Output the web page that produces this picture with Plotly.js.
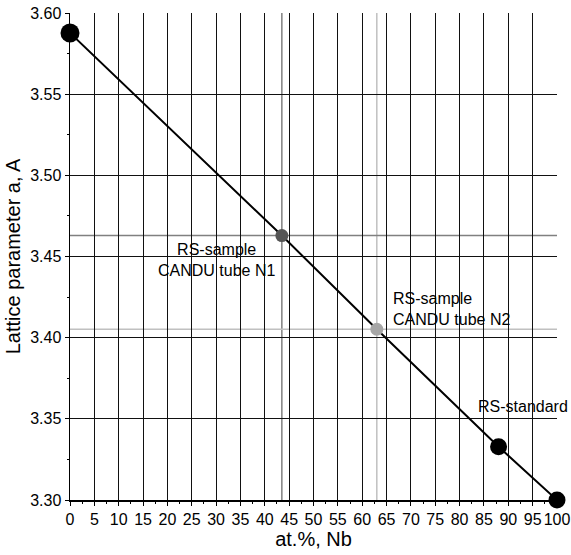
<!DOCTYPE html>
<html>
<head>
<meta charset="utf-8">
<script src="https://cdn.plot.ly/plotly-3.0.1.min.js"></script>
<style>html,body{margin:0;padding:0;background:#fff;}#chart{width:571px;height:555px;}</style>
</head>
<body>
<div id="chart"></div>
<script>
// Data (at.% Nb vs lattice parameter a, Å)
const nbPercent = [0, 43.5, 63, 88, 100];
const latticeA = [3.5877, 3.4629, 3.4052, 3.3328, 3.300];
const markerColors = ['#000000', '#555555', '#a6a6a6', '#000000', '#000000'];
const markerSizes = [19, 13, 13, 17, 17];

const sampleNames = ['RS-sample<br>CANDU tube N1', 'RS-sample<br>CANDU tube N2', 'RS-standard'];
const labelX = [30.05, 65.95, 83.4];
const labelY = [3.4476, 3.4174, 3.3579];

// Reference lines for the two samples
const refX = [43.5, 63];
const refY = [3.4629, 3.4052];
const refColors = ['#808080', '#c0c0c0'];

const xTicks = [0,5,10,15,20,25,30,35,40,45,50,55,60,65,70,75,80,85,90,95,100];

const font = 'Liberation Sans, Arial, sans-serif';

const traces = [{
  x: nbPercent,
  y: latticeA,
  mode: 'lines',
  line: {color: '#000', width: 2},
  cliponaxis: false,
  hoverinfo: 'skip',
  showlegend: false
}, {
  x: nbPercent,
  y: latticeA,
  mode: 'markers',
  marker: {color: markerColors, size: markerSizes, opacity: 1, line: {width: 0}},
  cliponaxis: false,
  hoverinfo: 'x+y',
  showlegend: false
}];

const shapes = [];
refX.forEach((v, i) => {
  shapes.push({type: 'line', xref: 'x', yref: 'paper', x0: v, x1: v, y0: 0, y1: 1,
    line: {color: refColors[i], width: 1.5}, layer: 'below'});
});
refY.forEach((v, i) => {
  shapes.push({type: 'line', xref: 'paper', yref: 'y', x0: 0, x1: 1, y0: v, y1: v,
    line: {color: refColors[i], width: 1.5}, layer: 'below'});
});

const annotations = sampleNames.map((t, i) => ({
  x: labelX[i], y: labelY[i], xref: 'x', yref: 'y', text: t, showarrow: false,
  xanchor: i === 0 ? 'center' : 'left', align: i === 0 ? 'center' : 'left',
  yanchor: 'middle',
  font: {family: font, size: 16, color: '#000'}
}));

const layout = {
  width: 571, height: 555,
  margin: {l: 70, r: 14, t: 13, b: 55, pad: 0},
  paper_bgcolor: '#fff', plot_bgcolor: '#fff',
  font: {family: font, color: '#000', size: 16},
  xaxis: {
    range: [0, 100],
    tickvals: xTicks,
    ticktext: xTicks.map(String),
    ticks: 'outside', ticklen: 4, tickwidth: 1, tickcolor: '#000',
    minor: {dtick: 2.5, tick0: 0, ticks: 'outside', ticklen: 2, tickcolor: '#000', showgrid: false},
    showgrid: true, gridcolor: '#111', gridwidth: 1,
    showline: true, linecolor: '#000', linewidth: 1.5, mirror: false,
    zeroline: false,
    tickfont: {family: font, size: 16, color: '#000'},
    title: {text: 'at.%, Nb', font: {family: font, size: 20, color: '#000'}, standoff: 5}
  },
  yaxis: {
    range: [3.30, 3.60],
    dtick: 0.05, tick0: 3.30,
    tickformat: '.2f',
    ticks: 'outside', ticklen: 4, tickwidth: 1, tickcolor: '#000',
    minor: {dtick: 0.025, tick0: 3.30, ticks: 'outside', ticklen: 2, tickcolor: '#000', showgrid: false},
    showgrid: true, gridcolor: '#111', gridwidth: 1,
    showline: true, linecolor: '#000', linewidth: 1.5,
    zeroline: false,
    tickfont: {family: font, size: 16, color: '#000'},
    title: {text: 'Lattice parameter a, A', font: {family: font, size: 20, color: '#000'}, standoff: 4}
  },
  shapes: shapes,
  annotations: annotations
};

Plotly.newPlot('chart', traces, layout, {displayModeBar: false, staticPlot: true});
</script>
</body>
</html>
